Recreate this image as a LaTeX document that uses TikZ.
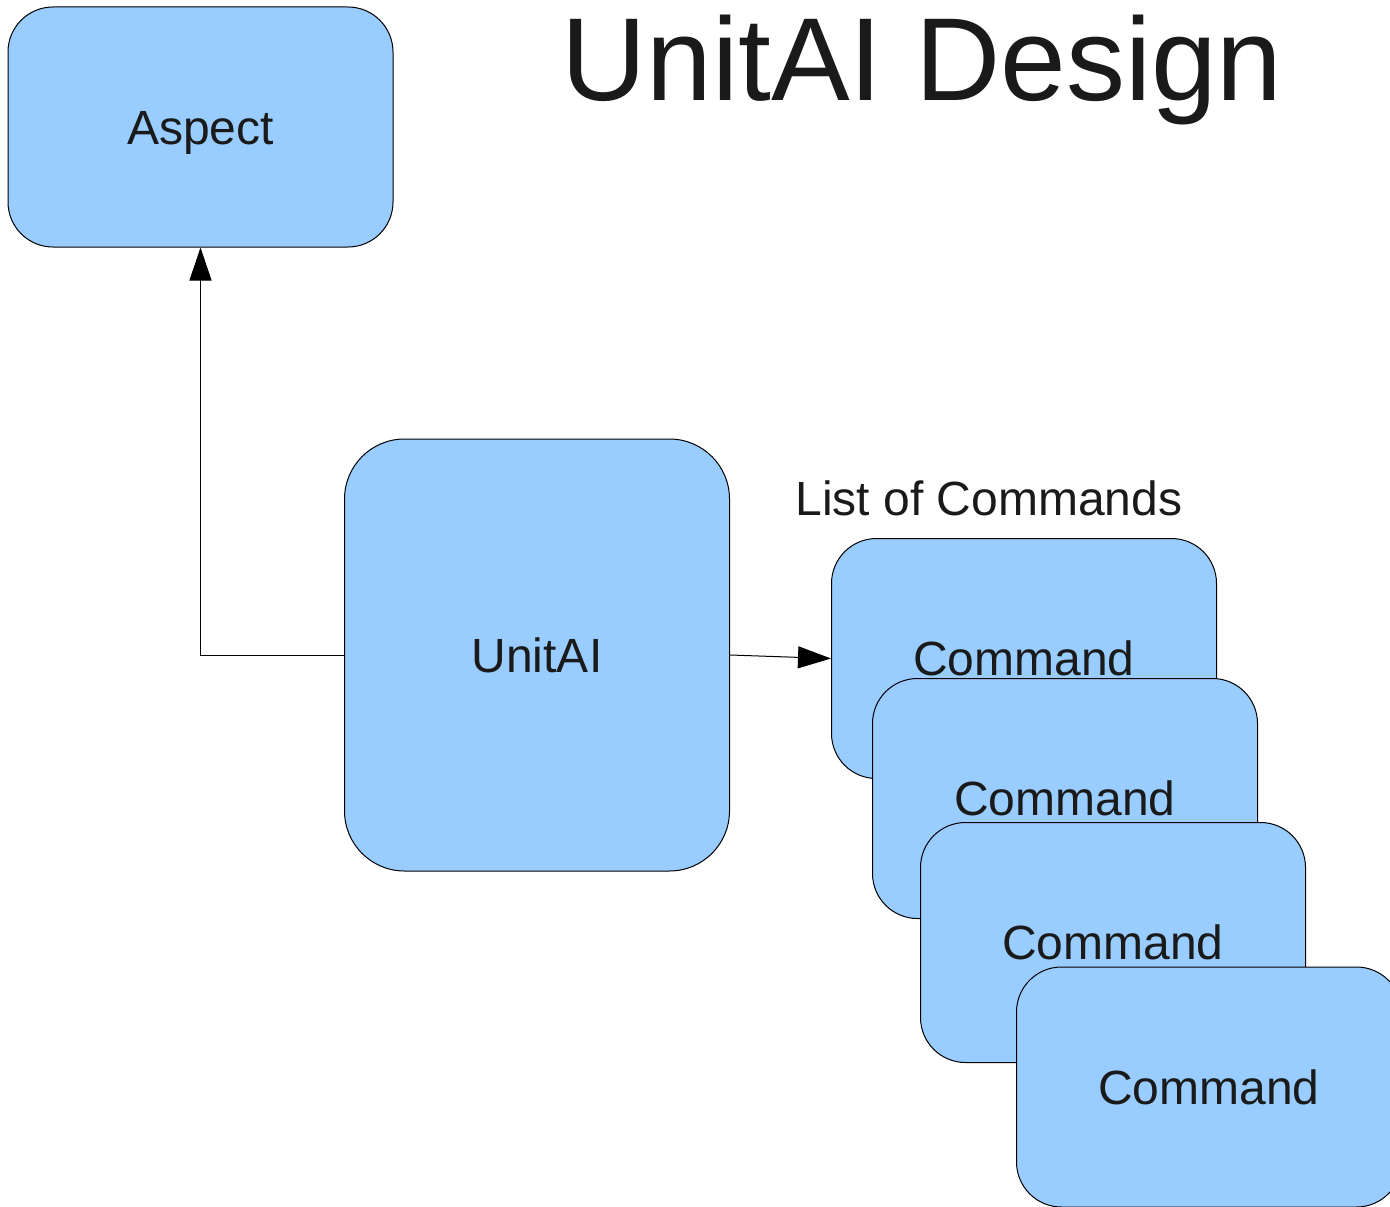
\documentclass[tikz,border=0pt]{standalone}
\usepackage{fontspec}
\setmainfont{Liberation Sans}
\usetikzlibrary{arrows.meta}
\definecolor{boxfill}{HTML}{99CCFF}
\definecolor{ink}{HTML}{1A1A1A}
\begin{document}
\begin{tikzpicture}[x=1pt,y=-1pt,
  box/.style={draw=black, line width=1pt, fill=boxfill, rounded corners=45pt,
    inner sep=0pt, minimum width=385pt, minimum height=240pt, text=ink,
    font=\fontsize{48}{58}\selectfont, text height=34pt, text depth=0pt},
  label/.style={text=ink, inner sep=0pt, anchor=base, font=\fontsize{48}{58}\selectfont},
  conn/.style={line width=1pt, -{Triangle[length=33pt,width=22pt]}}]
\useasboundingbox (0,0) rectangle (1390,1207);
\clip (0,0) rectangle (1390,1207);
\node[box] (aspect) at (200.5,127) {Aspect};
\node[box, minimum height=432pt, rounded corners=60pt] (unitai) at (537,655) {UnitAI};
\node[box] (cmd1) at (1024,658.5) {Command};
\node[box] (cmd2) at (1065,798.5) {Command};
\node[box] (cmd3) at (1113,942.5) {Command};
\node[box] (cmd4) at (1209,1087) {Command};
\node[label, font=\fontsize{118}{130}\selectfont] (title) at (922,100) {UnitAI Design};
\node[label] (listlbl) at (989,515) {List of Commands};
\draw[conn] (unitai.west) -| (aspect.south);
\draw[conn] (unitai.east) -- (cmd1.west);
\end{tikzpicture}
\end{document}
